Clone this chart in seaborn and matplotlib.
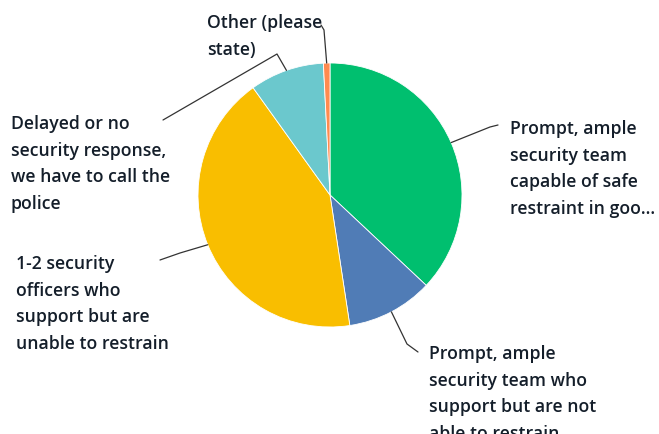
import numpy as np
import matplotlib
matplotlib.use("Agg")
import matplotlib.pyplot as plt
import seaborn as sns

categories = [
    "Prompt, ample\nsecurity team\ncapable of safe\nrestraint in goo...",
    "Prompt, ample\nsecurity team who\nsupport but are not\nable to restrain",
    "1-2 security\nofficers who\nsupport but are\nunable to restrain",
    "Delayed or no\nsecurity response,\nwe have to call the\npolice",
    "Other (please\nstate)",
]
values = [37.0, 10.6, 42.5, 9.1, 0.8]
colors = ["#00BF6F", "#507CB6", "#F9BE00", "#6BC8CD", "#FF8B4F"]

# label placement (pixels): text top-left, leader path points after the wedge edge
label_pos = [(510, 120), (429, 345), (16, 255), (11, 115), (207, 14)]
leader_mid = [[(490, 127), (498, 125)],
              [(407, 344), (418, 352)],
              [(180, 253), (160, 260)],
              [(277, 54), (163, 120)],
              [(324, 30), (321, 25)]]

sns.set_theme(style="white")
plt.rcParams["font.family"] = ["Open Sans", "DejaVu Sans"]

W, H = 659, 434
fig = plt.figure(figsize=(W / 100, H / 100), dpi=100)
cx, cy, r = 330, 195, 132
ax = fig.add_axes([(cx - r) / W, (H - cy - r) / H, 2 * r / W, 2 * r / H])
wedges, _ = ax.pie(values, colors=colors, startangle=90, counterclock=False,
                   wedgeprops=dict(edgecolor="white", linewidth=0.6))
ax.set_xlim(-1, 1)
ax.set_ylim(-1, 1)
ax.axis("off")

def px2fig(p):
    return (p[0] / W, 1 - p[1] / H)

for w, lab, tp, mids in zip(wedges, categories, label_pos, leader_mid):
    ang = np.deg2rad((w.theta1 + w.theta2) / 2)
    start_disp = ax.transData.transform((np.cos(ang), np.sin(ang)))
    start_fig = fig.transFigure.inverted().transform(start_disp)
    pts = [tuple(start_fig)] + [px2fig(p) for p in mids]
    xs, ys = zip(*pts)
    fig.add_artist(plt.Line2D(xs, ys, transform=fig.transFigure,
                              color="#333333", lw=0.9))
    fx, fy = px2fig(tp)
    fig.text(fx, fy, lab, ha="left", va="top", fontsize=12.7,
             color="#141e2a", linespacing=1.62, fontweight="semibold")

fig.savefig("out.png", dpi=100)
